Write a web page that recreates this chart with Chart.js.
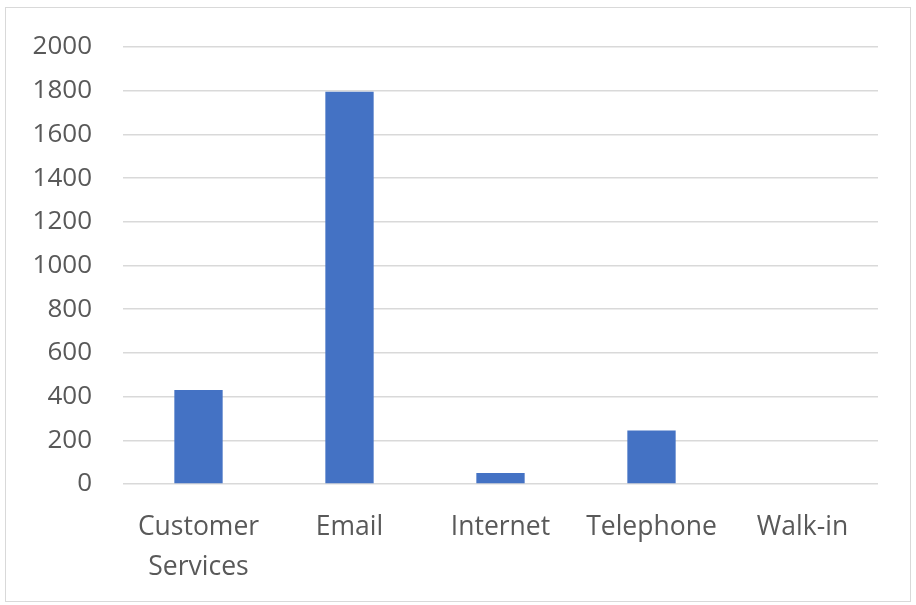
<!DOCTYPE html>
<html>
<head>
<meta charset="utf-8">
<script src="https://cdn.jsdelivr.net/npm/chart.js@4"></script>
<style>
  html, body { margin: 0; padding: 0; background: #fff; }
  #wrap { position: relative; width: 916px; height: 605px; }
  #frame { position: absolute; left: 5px; top: 7px; width: 906px; height: 595px; border: 1.5px solid #d9d9d9; box-sizing: border-box; }
  canvas { position: absolute; left: 0; top: 0; }
</style>
</head>
<body>
<div id="wrap">
  <div id="frame"></div>
  <canvas id="chart" width="916" height="605"></canvas>
</div>
<script>
let categories = [['Customer', 'Services'], 'Email', 'Internet', 'Telephone', 'Walk-in']
let counts = [430, 1795, 50, 245, 0]
let yTicks = [0, 200, 400, 600, 800, 1000, 1200, 1400, 1600, 1800, 2000]

let textColor = '#595959'
let gridColor = '#d9d9d9'
let barColor = '#4472C4'

let ctx = document.getElementById('chart')
let chart = new Chart(ctx, {
  type: 'bar',
  data: {
    labels: categories,
    datasets: [{
      data: counts,
      backgroundColor: barColor,
      barPercentage: 0.32,
      categoryPercentage: 1
    }]
  },
  options: {
    responsive: false,
    animation: false,
    layout: { padding: { top: 47, right: 38, bottom: 0, left: 0 } },
    scales: {
      x: {
        grid: { display: false, drawTicks: false },
        border: { display: false },
        ticks: {
          color: textColor,
          padding: 23,
          maxRotation: 0,
          autoSkip: false,
          font: { family: 'Open Sans', size: 26.5, lineHeight: 1.52 }
        },
        afterFit: function(scale) { scale.height = 121 }
      },
      y: {
        min: 0,
        max: 2000,
        afterBuildTicks: function(scale) {
          scale.ticks = yTicks.map(v => ({ value: v }))
        },
        grid: { color: gridColor, lineWidth: 1.5, drawTicks: false },
        border: { display: false },
        ticks: {
          color: textColor,
          padding: 31,
          callback: function(value) { return String(value) },
          font: { family: 'Open Sans', size: 26 }
        },
        afterFit: function(scale) { scale.width = 123 }
      }
    },
    plugins: {
      legend: { display: false },
      tooltip: { enabled: false }
    }
  }
})
</script>
</body>
</html>
